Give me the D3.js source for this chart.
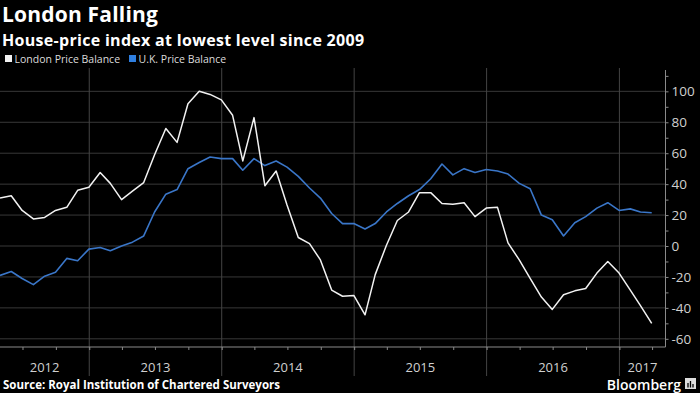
<!DOCTYPE html>
<html lang="en">
<head>
  <meta charset="UTF-8" />
  <title>London Falling</title>
  <script src="https://d3js.org/d3.v7.min.js"></script>
  <style>
    body { margin: 0; background: #000; }
    svg { display: block; font-family: "Open Sans", Arial, sans-serif; }
  </style>
</head>
<body>
  <div id="chart"></div>
  <script>
    const width = 700, height = 393;

    // months (end of month), Apr 2012 .. Mar 2017
    const months = [
      "2012-04","2012-05","2012-06","2012-07","2012-08","2012-09","2012-10","2012-11","2012-12",
      "2013-01","2013-02","2013-03","2013-04","2013-05","2013-06","2013-07","2013-08","2013-09","2013-10","2013-11","2013-12",
      "2014-01","2014-02","2014-03","2014-04","2014-05","2014-06","2014-07","2014-08","2014-09","2014-10","2014-11","2014-12",
      "2015-01","2015-02","2015-03","2015-04","2015-05","2015-06","2015-07","2015-08","2015-09","2015-10","2015-11","2015-12",
      "2016-01","2016-02","2016-03","2016-04","2016-05","2016-06","2016-07","2016-08","2016-09","2016-10","2016-11","2016-12",
      "2017-01","2017-02","2017-03"
    ];
    const london = [
      31, 32.5, 23, 17.5, 18.5, 23, 25, 36, 38,
      47.5, 40.5, 30, 35.5, 41, 59, 76, 67, 92, 100, 98, 94.5,
      84.5, 55, 83, 39, 48.5, 26.5, 5.5, 1.5, -9, -28.5, -32.5,
      -32, -44.5, -18.5, 0.5, 16.5, 22, 34.5, 34.5, 27.5, 27, 28, 19,
      24.5, 25, 2, -9, -21, -33, -41, -31.5, -29, -27.5, -17.5, -10,
      -17.5, -28.5, -38.5, -50
    ];
    const uk = [
      -19, -16.5, -21, -25, -19.5, -17, -8, -9.5, -2,
      -1, -3, 0, 2.5, 6.5, 22, 33.5, 36.5, 50, 54, 57.5, 56.5,
      56.5, 49, 56.5, 52, 55, 51, 45, 37.5, 31, 21, 14.5,
      14.5, 11, 14.5, 22, 27.5, 32.5, 36.5, 43.5, 53, 46, 50, 47.5,
      49.5, 48.5, 46.5, 40.5, 37, 20, 17, 6.5, 15, 19, 24.5, 28,
      23, 24, 22, 21.5
    ];
    const yTicks = [-60, -40, -20, 0, 20, 40, 60, 80, 100];
    const years = [2012, 2013, 2014, 2015, 2016, 2017];

    const parseMonth = d3.timeParse("%Y-%m");
    const monthEnd = m => d3.timeDay.offset(d3.timeMonth.offset(parseMonth(m), 1), -1);
    const dates = months.map(monthEnd);

    const plot = { left: 0, right: 665.5, top: 70, bottom: 347 };

    const x = d3.scaleTime()
      .domain([new Date(2012, 3, 30), new Date(2017, 4, 8)])
      .range([plot.left, plot.right]);
    const y = d3.scaleLinear()
      .domain([-65.3, 113.8])
      .range([plot.bottom, plot.top]);

    const svg = d3.select('#chart').append('svg')
      .attr('width', width)
      .attr('height', height)
      .attr('viewBox', `0 0 ${width} ${height}`);

    svg.append('rect').attr('width', width).attr('height', height).attr('fill', '#000');

    // horizontal grid
    svg.append('g').selectAll('line').data(yTicks).join('line')
      .attr('x1', plot.left).attr('x2', plot.right)
      .attr('y1', d => y(d)).attr('y2', d => y(d))
      .attr('stroke', '#383838').attr('stroke-width', 1);

    // year boundaries (extend into label area)
    const yearStarts = years.map(yr => new Date(yr, 0, 1)).filter(d => x(d) > 1 && x(d) < plot.right);
    svg.append('g').selectAll('line').data(yearStarts).join('line')
      .attr('x1', d => x(d)).attr('x2', d => x(d))
      .attr('y1', plot.top - 2).attr('y2', 376)
      .attr('stroke', '#444').attr('stroke-width', 1);

    // x axis: quarter ticks
    const xAxis = d3.axisBottom(x)
      .ticks(d3.timeMonth.every(3))
      .tickSize(3)
      .tickFormat('');
    const gx = svg.append('g').attr('transform', `translate(0,${plot.bottom})`).call(xAxis);
    gx.select('.domain').attr('stroke', '#8a8a8a').attr('d', `M${plot.left},0H${plot.right}`);
    gx.selectAll('.tick line').attr('stroke', '#8a8a8a');

    // year labels centered on visible part of each year
    svg.append('g').selectAll('text').data(years).join('text')
      .attr('x', yr => {
        const a = Math.max(x(new Date(yr, 0, 1)), plot.left);
        const b = Math.min(x(new Date(yr + 1, 0, 1)), plot.right);
        return (a + b) / 2;
      })
      .attr('y', 372)
      .attr('text-anchor', 'middle')
      .attr('fill', '#d0d0d0')
      .attr('font-size', 13)
      .text(d => d);

    // right y axis
    const yAxis = d3.axisRight(y)
      .tickValues(d3.range(-60, 111, 10))
      .tickSize(3)
      .tickFormat(d => yTicks.includes(d) ? d : '');
    const gy = svg.append('g').attr('transform', `translate(${plot.right},0)`).call(yAxis);
    gy.select('.domain').attr('stroke', '#8a8a8a').attr('d', `M0,${plot.top}V${plot.bottom}`);
    gy.selectAll('.tick line').attr('stroke', '#8a8a8a');
    gy.selectAll('.tick text')
      .attr('x', 6)
      .attr('fill', '#d0d0d0')
      .attr('font-size', 13.5)
      .attr('font-family', '"Open Sans", Arial, sans-serif');

    // lines
    const line = d3.line().x((d, i) => x(dates[i])).y(d => y(d));
    svg.append('path').datum(uk)
      .attr('d', line).attr('fill', 'none')
      .attr('stroke', '#3a76c8').attr('stroke-width', 1.6)
      .attr('stroke-linejoin', 'round');
    svg.append('path').datum(london)
      .attr('d', line).attr('fill', 'none')
      .attr('stroke', '#f2f2f2').attr('stroke-width', 1.5)
      .attr('stroke-linejoin', 'round');

    // titles
    svg.append('text').attr('x', 2).attr('y', 22)
      .attr('fill', '#fff').attr('font-size', 21).attr('font-weight', 700)
      .attr('letter-spacing', 0.2)
      .text('London Falling');
    svg.append('text').attr('x', 2).attr('y', 45.5)
      .attr('fill', '#fff').attr('font-size', 16).attr('font-weight', 700)
      .attr('letter-spacing', 0.3)
      .text('House-price index at lowest level since 2009');

    // legend
    const legend = [
      { label: 'London Price Balance', color: '#f2f2f2', x: 5 },
      { label: 'U.K. Price Balance', color: '#2f7fe0', x: 129 }
    ];
    const lg = svg.append('g').selectAll('g').data(legend).join('g')
      .attr('transform', d => `translate(${d.x},55)`);
    lg.append('rect').attr('width', 7).attr('height', 7).attr('fill', d => d.color);
    lg.append('text').attr('x', 9.5).attr('y', 7.5)
      .attr('fill', '#dcdcdc').attr('font-size', 10.5)
      .text(d => d.label);

    // source
    svg.append('text').attr('x', 3).attr('y', 389)
      .attr('fill', '#fff').attr('font-size', 11.5).attr('font-weight', 700)
      .text('Source: Royal Institution of Chartered Surveyors');

    // Bloomberg mark
    svg.append('text').attr('x', 681).attr('y', 390)
      .attr('text-anchor', 'end')
      .attr('fill', '#fff').attr('font-size', 14).attr('font-weight', 600)
      .text('Bloomberg');
    const logo = svg.append('g').attr('transform', 'translate(685,378)');
    logo.append('rect').attr('width', 11).attr('height', 11).attr('fill', '#ddd');
    logo.selectAll('line').data([[3, 5], [5.5, 3], [8, 6]]).join('line')
      .attr('x1', d => d[0]).attr('x2', d => d[0])
      .attr('y1', d => d[1]).attr('y2', 9.5)
      .attr('stroke', '#000').attr('stroke-width', 1.3);
  </script>
</body>
</html>
